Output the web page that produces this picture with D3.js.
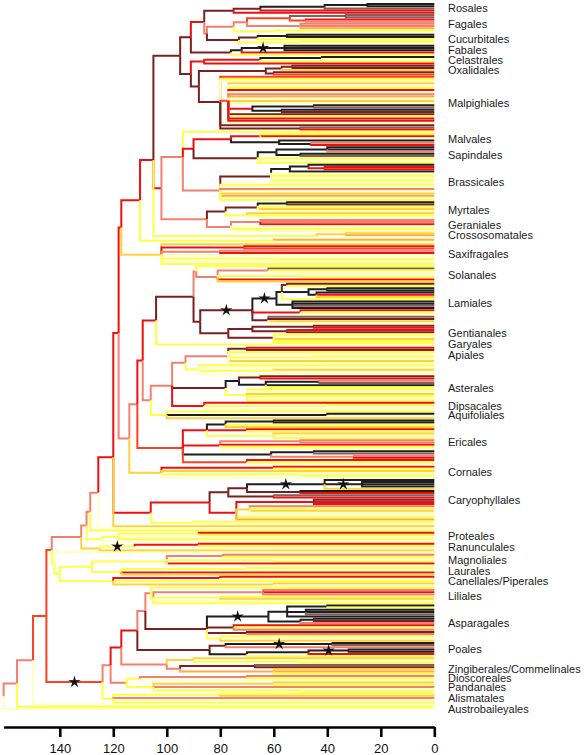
<!DOCTYPE html>
<html><head><meta charset="utf-8">
<script src="https://cdn.jsdelivr.net/npm/d3@7"></script>
<style>body{margin:0;background:#fff} svg{display:block}</style>
</head><body><svg id="chart" width="588" height="755"></svg>
<script>
// ---------------- DATA ----------------
const orderNames = ["Rosales","Fagales","Cucurbitales","Fabales","Celastrales","Oxalidales","Malpighiales",
 "Malvales","Sapindales","Brassicales","Myrtales","Geraniales","Crossosomatales","Saxifragales",
 "Solanales","Lamiales","Gentianales","Garyales","Apiales","Asterales","Dipsacales","Aquifoliales",
 "Ericales","Cornales","Caryophyllales","Proteales","Ranunculales","Magnoliales","Laurales",
 "Canellales/Piperales","Liliales","Asparagales","Poales","Zingiberales/Commelinales","Dioscoreales",
 "Pandanales","Alismatales","Austrobaileyales"];

// clade of each order: (children)AGEcolor[*]; tip = color letter; * = asterisk on that branch
const orderClades = [
 "((((k,k)25k,b)41k,R)65m,R)75m",
 "((((b,b)33b,(R,s)48r)54r,(s,s,o)50s)70s,(y,p)60y)75s",
 "(((k,k)55k,y)66m,(y,p)50y)73m",
 "(((k,k,k)56k*,R)72k,y)76m",
 "(((k,p)42k,y)65R,R)86R",
 "(((m,m)53m,g)57m,(m,r)60m)63m",
 "(r,y,p,(g,p,y,R,p,s,o,p,g,p,((k,b)45k,(k,m)57k)68R,m,y,R,R)77r,p,m,(b,R)50m)80m",
 "((y,R,p)65R,(k,(s,R)46k)58k)76R",
 "(((k,k,s)40k,(k,b)50k)59k,y,p,y)66m",
 "((((k,(R,R)41R)47k,k)54k,p,y,p,y,p)61m,y,p,s,p,g,o,p,y)80s",
 "(((k,m)55k,y,g,p)66m,(g,y,p)70y)78m",
 "((s,s,R)65s,p,y,p)76s",
 "((g,o)33g,p)44y",
 "(g,(R,r)71R,(s,R)80s,p,(p,y)60y,p,y)102g",
 "((b,y,p)62s,(p,y)50y,R,g)81s",
 "((((m,y)55m,((k,k)40k,(k,R,g)44k)47k,y)57k,(k,k,b,k)53k)59k*,(R,y,p)50R,(b,m,g,p)62m)68m*",
 "(((m,R)45m,(R,m)55m)68m,(y,p,g,y)60m)77m",
 "(y,p)60y",
 "((R,m)70m,y,p,(y,p)45y,g,p)77s",
 "(((m,R)65m,((s,b)43k,k,y)63k)73k,(y,p,g,y,p,y)70y)78m",
 "(R,(y,p)40y,p)86R",
 "(y,(k,p)40k,g)100y",
 "((((k,k)60k,y,g)78k,(R,y)70R,(g,p,y)60y)85R,((s,s)50s,R,y,p)80R,((k,b)45k,(s,R)30s)61k,(R,y,p)70r)94r",
 "((R,y)60R,g,(p,y)50y,p)102g",
 "((((k,(k,k,k)27k*,g)41k*,(k,R)50m)70m,(b,R)60m)77m,((m,R,R)45R,(s,y,g,p)69g,p,y,o)74R)84R",
 "((R,y)88y,p,y)118y",
 "(((R,y)88R,p)112y*,g)125g",
 "((s,y)79s,(p,y)60y,R,p)100y",
 "((y,p)70y,R,g)117y",
 "((R,p)80R,y,(g,p)60g)120y",
 "((s,R,s)64s,(y,g)80y,p,y)105y",
 "((((k,y)40k,(k,k,b)48k,k)55k,((k,m)45k,s)50k)62k*,(R,y,s)75m,(m,s)70m,(y,p,g)80y)85m",
 "(((k,b)38k*,s)78m,(((k,k)32k*,R)47k,y)70k)84m",
 "((b,m)67m,(g,o,y)60o)95s",
 "((s,y)70s,p)110y",
 "((g,y)60g,s,(p,y)50y)105y",
 "((y,g)80y,s,p,y)120y",
 "p"
];

// backbone: {n} = order clade n, {NAME} = backbone clade
const backboneClades = [
 ["ROOT", "({N156},{37})161s"],
 ["N156", "({N150},y)156s"],
 ["N150", "({N145},p)150s"],
 ["N145", "({MESO},{MONO})145r"],
 ["MESO", "({EUD},{MAGN})143r"],
 ["MAGN", "(p,(({27},{28})128y,{29})140y)142y"],
 ["EUD", "({E1},{26})132s"],
 ["E1", "({E2},({25},p)124y)130s"],
 ["E2", "({E3},y)128.6s"],
 ["E3", "({PENT},p)125.6s"],
 ["PENT", "({PA},{SA},g)120R"],
 ["SA", "({24},(y,p)90y)106R"],
 ["PA", "({SUPERROSIDS},{ASTERIDS})118R"],
 ["SUPERROSIDS", "(({ROSIDS},(o,p)60y)110R,{13})117R"],
 ["ROSIDS", "({FABIDS},{MALVIDS},{12})105R"],
 ["FABIDS", "((({0},({1},{2})85s)86R,{3})91m,({4},({5},{6})88m)91m)95m"],
 ["MALVIDS", "((y,({7},{8})90R,{9})94s,({10},{11})85s)102R"],
 ["ASTERIDS", "((({LAMIIDS},{CAMPANULIDS})109R,{22})111s,{23})114s"],
 ["LAMIIDS", "(((y,{14})89s,({15},{16})87.5m)90m,{17})104R"],
 ["CAMPANULIDS", "((({18},(y,p,(g,p)60y,p)88y)93s,{19},{20})98s,{21})106s"],
 ["MONO", "(({M3},({34},{35})115s)121s,{36})124r*"],
 ["M3", "((((y,{30})106s,{31})108s,{32})111R,((g,(p,y)50y)90g,{33})100s)117R"]
];

const colorKeys   = ["p","y","g","o","s","r","R","m","b","k"];
const colorValues = ["#FFFFC4","#FFFF45","#FFD23C","#FFAA45","#F3806E","#FF4020","#EE1010","#7A2020","#806058","#1E1E1E"];
const axisTicks = [140,120,100,80,60,40,20,0];
const rootAge = 161;

// ---------------- PARSE ----------------
const defs = new Map(backboneClades);
const colorScale = d3.scaleOrdinal().domain(colorKeys).range(colorValues);

function parseClade(str, group) {
  let i = 0;
  function node() {
    const ch = str[i];
    if (ch === "(") {
      i++;
      const children = [];
      while (true) {
        children.push(node());
        if (str[i] === ",") { i++; continue; }
        if (str[i] === ")") { i++; break; }
        throw new Error("parse error at " + i + " in " + str);
      }
      let num = "";
      while (i < str.length && /[0-9.]/.test(str[i])) num += str[i++];
      const color = (i < str.length && /[A-Za-z]/.test(str[i])) ? str[i++] : "s";
      let star = false;
      if (str[i] === "*") { star = true; i++; }
      return {children, age: +num, color, star, group};
    }
    if (ch === "{") {
      const j = str.indexOf("}", i);
      const name = str.slice(i + 1, j);
      i = j + 1;
      if (/^\d+$/.test(name)) return parseClade(orderClades[+name], +name);
      return parseClade(defs.get(name), group);
    }
    i++;
    let star = false;
    if (str[i] === "*") { star = true; i++; }
    return {children: null, age: 0, color: ch, star, group};
  }
  return node();
}

const root = parseClade(defs.get("ROOT"), -1);
const tips = [], nodes = [];
(function walk(n, parent) {
  n.parent = parent; nodes.push(n);
  if (!n.children) { n.idx = tips.length; tips.push(n); }
  else n.children.forEach(c => walk(c, n));
})(root, null);
(function setY(n) {
  n.yi = n.children ? d3.mean(n.children, setY) : n.idx;
  return n.yi;
})(root);

// ---------------- SCALES ----------------
const x = d3.scaleLinear().domain([rootAge, 0]).range([3.6, 434.3]);
const y = d3.scaleLinear().domain([0, tips.length - 1]).range([4, 709]);

const svg = d3.select("#chart");
const font = "'Liberation Sans', Arial, Helvetica, sans-serif";

// ---------------- EDGES ----------------
const edgeG = svg.append("g").attr("fill", "none").attr("stroke-width", 2);
edgeG.selectAll("path").data(nodes.filter(n => n.parent)).join("path")
  .attr("d", n => `M${x(n.parent.age)},${y(n.parent.yi)}V${y(n.yi)}H${x(n.age)}`)
  .attr("stroke", n => colorScale(n.color))
  .attr("stroke-linejoin", "miter");

// ---------------- STARS ----------------
function starPath(r1, r2) {
  const pts = [];
  for (let k = 0; k < 10; k++) {
    const a = -Math.PI / 2 + k * Math.PI / 5;
    const r = k % 2 === 0 ? r1 : r2;
    pts.push([r * Math.cos(a), r * Math.sin(a)]);
  }
  return "M" + pts.map(p => p.join(",")).join("L") + "Z";
}
svg.append("g").selectAll("path").data(nodes.filter(n => n.star && n.parent)).join("path")
  .attr("d", starPath(6.5, 2.2))
  .attr("fill", "#111")
  .attr("transform", n => `translate(${(x(n.parent.age) + x(n.age)) / 2},${y(n.yi)})`);

// ---------------- LABELS ----------------
const groups = d3.rollups(tips.filter(t => t.group >= 0), v => d3.mean(v, t => y(t.idx)), t => t.group);
svg.append("g").selectAll("text").data(groups).join("text")
  .attr("x", 448).attr("y", d => d[1]).attr("dy", "0.35em")
  .attr("font-family", font).attr("font-size", 11).attr("fill", "#1a1a1a")
  .text(d => orderNames[d[0]]);

// ---------------- AXIS ----------------
const axis = d3.axisBottom(x).tickValues(axisTicks).tickSize(10).tickSizeOuter(0).tickPadding(7)
  .tickFormat(d3.format("d"));
const ag = svg.append("g").attr("transform", "translate(0,727)").call(axis);
ag.select(".domain").attr("stroke", "#000").attr("stroke-width", 2.6);
ag.selectAll(".tick line").attr("stroke", "#000").attr("stroke-width", 2.6);
ag.selectAll(".tick text").attr("font-family", font).attr("font-size", 13).attr("fill", "#111");
</script>
</body></html>
